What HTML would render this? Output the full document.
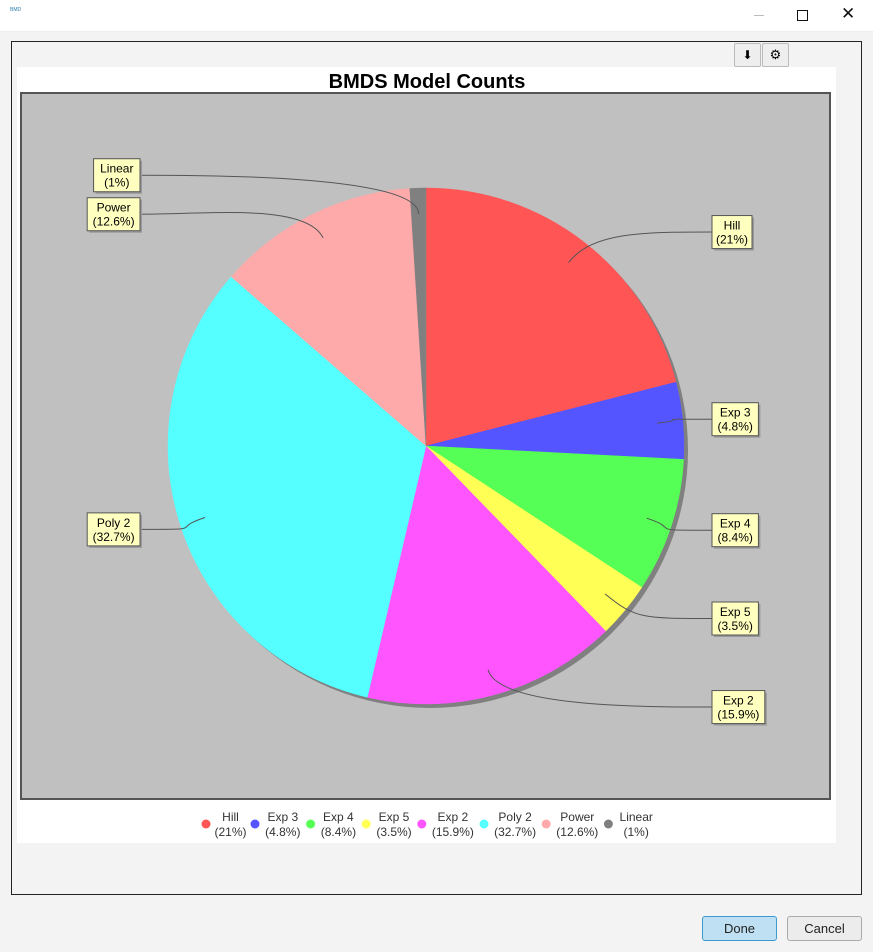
<!DOCTYPE html>
<html><head><meta charset="utf-8"><style>
html,body{margin:0;padding:0;width:873px;height:952px;overflow:hidden;background:#f3f3f3;font-family:"Liberation Sans",sans-serif}
.abs{position:absolute}
</style></head><body>
<div class="abs" style="left:0;top:0;width:873px;height:31px;background:#fff;border-bottom:1px solid #eee"></div>
<div class="abs" style="left:10px;top:8px;width:10px;height:13px;font-size:5px;color:#2a7fae;line-height:5px">BMD</div>
<div class="abs" style="left:754px;top:15px;width:10px;height:1px;background:#bbb"></div>
<div class="abs" style="left:797px;top:10px;width:9px;height:9px;border:1px solid #111"></div>
<div class="abs" style="left:841px;top:4px;font-size:17px;color:#111">✕</div>
<div class="abs" style="left:11px;top:41px;width:849px;height:852px;border:1px solid #222;background:#f3f3f3"></div>
<div class="abs" style="left:734px;top:43px;width:25px;height:22px;border:1px solid #bbb;border-radius:2px;background:#eee;font-size:12px;text-align:center;line-height:22px">⬇</div>
<div class="abs" style="left:762px;top:43px;width:25px;height:22px;border:1px solid #bbb;border-radius:2px;background:#eee;font-size:13px;text-align:center;line-height:22px">⚙</div>
<svg class="abs" style="left:0;top:0" width="873" height="952">
<rect x="17" y="67" width="819" height="776" fill="#fff"/>
<text x="427" y="88" text-anchor="middle" font-size="20" font-weight="bold" fill="#000">BMDS Model Counts</text>
<rect x="21" y="93" width="809" height="706" fill="#c0c0c0" stroke="#555" stroke-width="2"/>
<g id="pie"></g>
<g id="legend"></g>
</svg>
<div class="abs" style="left:702px;top:916px;width:73px;height:23px;border:1px solid #3c9ad1;border-radius:3px;background:#bfe0f2;font-size:13px;color:#222;text-align:center;line-height:23px">Done</div>
<div class="abs" style="left:787px;top:916px;width:73px;height:23px;border:1px solid #aaa;border-radius:3px;background:#ececec;font-size:13px;color:#222;text-align:center;line-height:23px">Cancel</div>
<script>
const categories=["Hill","Exp 3","Exp 4","Exp 5","Exp 2","Poly 2","Power","Linear"];
const values=[21,4.8,8.4,3.5,15.9,32.7,12.6,1];
const pctLabels=["21%","4.8%","8.4%","3.5%","15.9%","32.7%","12.6%","1%"];
const colors=["#ff5555","#5555ff","#55ff55","#ffff55","#ff55ff","#55ffff","#ffaaaa","#808080"];
const NS="http://www.w3.org/2000/svg";
const cx=426,cy=446,r=258;
const pie=document.getElementById('pie');
function mk(t,a,p){const e=document.createElementNS(NS,t);for(const k in a)e.setAttribute(k,a[k]);(p||pie).appendChild(e);return e;}
const total=values.reduce((a,b)=>a+b,0);
function pt(deg,rad){const a=(90-deg)*Math.PI/180;return[cx+rad*Math.cos(a),cy-rad*Math.sin(a)];}
const shadow=mk('circle',{cx:cx+4,cy:cy+4,r:r,fill:'#808080'});


let acc=0;const labels=[];
values.forEach((v,i)=>{
 const s=acc/total*360,e=(acc+v)/total*360;acc+=v;
 const p0=pt(s,r),p1=pt(e,r);
 const path=mk('path',{d:`M${cx},${cy}L${p0[0]},${p0[1]}A${r},${r} 0 ${e-s>180?1:0} 1 ${p1[0]},${p1[1]}Z`,fill:colors[i],stroke:colors[i],'stroke-width':0.5});
 
 
 const m=(s+e)/2;const ma=(90-m)*Math.PI/180;
 labels.push({i,m,right:Math.cos(ma)>=0,y:cy-Math.sin(ma)*r*1.05});
});
['L','R'].forEach(side=>{
 const g=labels.filter(l=>l.right===(side==='R')).sort((a,b)=>a.y-b.y);
 for(let k=1;k<g.length;k++)if(g[k].y<g[k-1].y+39)g[k].y=g[k-1].y+39;
});
labels.forEach(l=>{
 const i=l.i;const w=Math.max(categories[i].length,pctLabels[i].length+2)*6.4+8,h=33;
 const bx=l.right?712:140-w,by=l.y-h/2;
 const a=pt(l.m,r*0.9),a2=pt(l.m,r*1.05);
 const ex=l.right?bx:bx+w;
 const ln=mk('path',{d:`M${a[0]},${a[1]}C${a2[0]},${a2[1]} ${l.right?ex-70:ex+70},${l.y} ${ex},${l.y}`,fill:'none',stroke:'#555','stroke-width':1});
 
 
 mk('rect',{x:bx+2,y:by+2,width:w,height:h,fill:'#999'});
 const bx1=mk('rect',{x:bx,y:by,width:w,height:h,fill:'#ffffc0',stroke:'#555','stroke-width':1});
 
 
 const t=mk('text',{x:bx+w/2,y:by+14,'text-anchor':'middle','font-size':12,fill:'#000'});t.textContent=categories[i];
 const t2=mk('text',{x:bx+w/2,y:by+28,'text-anchor':'middle','font-size':12,fill:'#000'});t2.textContent='('+pctLabels[i]+')';
});
const lg=document.getElementById('legend');
let lx=200;
categories.forEach((c,i)=>{
 const w=Math.max(c.length,pctLabels[i].length+2)*6.6;
 const d=mk('circle',{cx:lx+6,cy:824,r:4.5,fill:colors[i]},lg);
 
 
 const t=mk('text',{x:lx+14+w/2,y:821,'text-anchor':'middle','font-size':12,fill:'#333'},lg);t.textContent=c;
 const t2=mk('text',{x:lx+14+w/2,y:836,'text-anchor':'middle','font-size':12,fill:'#333'},lg);t2.textContent='('+pctLabels[i]+')';
 lx+=w+16;
});
</script>
</body></html>
